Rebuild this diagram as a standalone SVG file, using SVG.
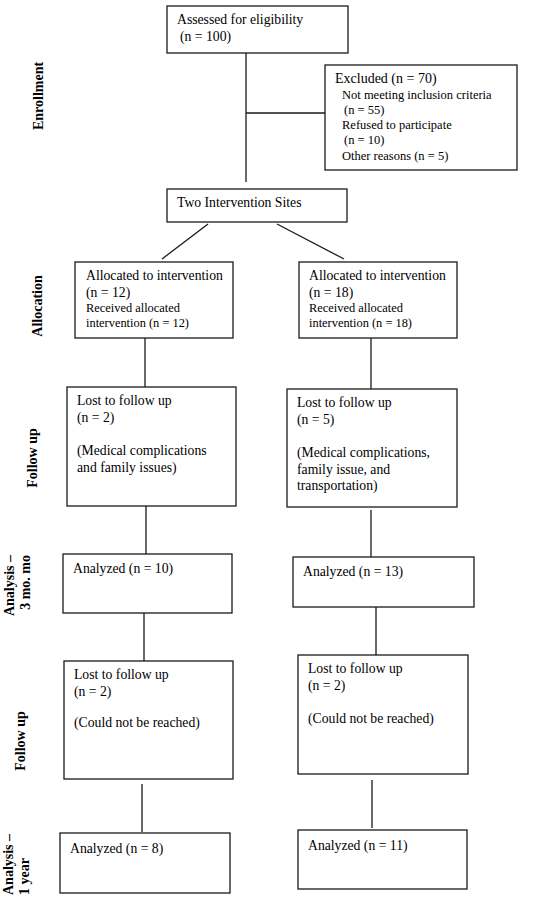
<svg xmlns="http://www.w3.org/2000/svg" width="550" height="899" viewBox="0 0 550 899">
<style>
.box{fill:#fff;stroke:#1a1a1a;stroke-width:1.3}
.ln{stroke:#1a1a1a;stroke-width:1.3;fill:none}
text{font-family:"Liberation Serif","Times New Roman",serif;fill:#000}
.t{font-size:13.7px}
.s{font-size:12.4px}
.e{font-size:12.5px}
.lab{font-size:14px;font-weight:bold}
</style>
<rect width="550" height="899" fill="#fff"/>
<g id="connectors">
<line class="ln" x1="246" y1="53" x2="246" y2="182"/>
<line class="ln" x1="246" y1="113" x2="325" y2="113"/>
<line class="ln" x1="208" y1="224" x2="162" y2="259"/>
<line class="ln" x1="277" y1="224" x2="344" y2="259"/>
<line class="ln" x1="145" y1="338" x2="145" y2="387"/>
<line class="ln" x1="371" y1="338" x2="371" y2="389"/>
<line class="ln" x1="146" y1="506" x2="146" y2="554"/>
<line class="ln" x1="371" y1="510" x2="371" y2="557"/>
<line class="ln" x1="144" y1="613" x2="144" y2="661"/>
<line class="ln" x1="376" y1="607" x2="376" y2="655"/>
<line class="ln" x1="142" y1="784" x2="142" y2="832"/>
<line class="ln" x1="372" y1="780" x2="372" y2="828"/>
</g>
<g id="labels">
<text class="lab" text-anchor="middle" transform="translate(43,96) rotate(-90)">Enrollment</text>
<text class="lab" text-anchor="middle" transform="translate(42,306) rotate(-90)">Allocation</text>
<text class="lab" text-anchor="middle" transform="translate(37,458) rotate(-90)">Follow up</text>
<text class="lab" text-anchor="end" transform="translate(14,555) rotate(-90)">Analysis –</text>
<text class="lab" text-anchor="end" transform="translate(30,555) rotate(-90)">3 mo. mo</text>
<text class="lab" text-anchor="middle" transform="translate(25,741) rotate(-90)">Follow up</text>
<text class="lab" text-anchor="start" transform="translate(13,895) rotate(-90)">Analysis –</text>
<text class="lab" text-anchor="start" transform="translate(29,895) rotate(-90)">1 year</text>
</g>
<g id="assessed">
<rect class="box" x="167" y="6" width="181" height="47"/>
<text class="t" x="177" y="24">Assessed for eligibility</text>
<text class="t" x="180" y="41">(n = 100)</text>
</g>
<g id="excluded">
<rect class="box" x="325" y="65" width="192" height="105"/>
<text class="t" x="335" y="83" style="font-size:14px">Excluded (n = 70)</text>
<text class="e" x="342" y="99">Not meeting inclusion criteria</text>
<text class="e" x="344" y="114">(n = 55)</text>
<text class="e" x="342" y="129">Refused to participate</text>
<text class="e" x="344" y="144">(n = 10)</text>
<text class="e" x="342" y="160">Other reasons (n = 5)</text>
</g>
<g id="sites">
<rect class="box" x="167" y="189" width="180" height="33"/>
<text class="t" x="177" y="207">Two Intervention Sites</text>
</g>
<g id="alloc-left">
<rect class="box" x="75" y="262" width="158" height="76"/>
<text class="t" x="86" y="280">Allocated to intervention</text>
<text class="t" x="86" y="297">(n = 12)</text>
<text class="s" x="86" y="312">Received allocated</text>
<text class="s" x="86" y="327">intervention (n = 12)</text>
</g>
<g id="alloc-right">
<rect class="box" x="299" y="262" width="158" height="76"/>
<text class="t" x="309" y="280">Allocated to intervention</text>
<text class="t" x="309" y="297">(n = 18)</text>
<text class="s" x="309" y="312">Received allocated</text>
<text class="s" x="309" y="327">intervention (n = 18)</text>
</g>
<g id="lost1-left">
<rect class="box" x="67" y="387" width="169" height="119"/>
<text class="t" x="77" y="405">Lost to follow up</text>
<text class="t" x="77" y="422">(n = 2)</text>
<text class="t" x="77" y="455">(Medical complications</text>
<text class="t" x="77" y="472">and family issues)</text>
</g>
<g id="lost1-right">
<rect class="box" x="287" y="389" width="170" height="118"/>
<text class="t" x="297" y="407">Lost to follow up</text>
<text class="t" x="297" y="424">(n = 5)</text>
<text class="t" x="297" y="457">(Medical complications,</text>
<text class="t" x="297" y="474">family issue, and</text>
<text class="t" x="297" y="490">transportation)</text>
</g>
<g id="an3-left">
<rect class="box" x="63" y="554" width="169" height="59"/>
<text class="t" x="73" y="573">Analyzed (n = 10)</text>
</g>
<g id="an3-right">
<rect class="box" x="293" y="557" width="181" height="50"/>
<text class="t" x="303" y="576">Analyzed (n = 13)</text>
</g>
<g id="lost2-left">
<rect class="box" x="64" y="661" width="169" height="118"/>
<text class="t" x="74" y="679">Lost to follow up</text>
<text class="t" x="74" y="696">(n = 2)</text>
<text class="t" x="74" y="727">(Could not be reached)</text>
</g>
<g id="lost2-right">
<rect class="box" x="298" y="655" width="170" height="119"/>
<text class="t" x="308" y="673">Lost to follow up</text>
<text class="t" x="308" y="690">(n = 2)</text>
<text class="t" x="308" y="723">(Could not be reached)</text>
</g>
<g id="an1y-left">
<rect class="box" x="60" y="833" width="170" height="60"/>
<text class="t" x="70" y="853">Analyzed (n = 8)</text>
</g>
<g id="an1y-right">
<rect class="box" x="298" y="830" width="169" height="59"/>
<text class="t" x="308" y="850">Analyzed (n = 11)</text>
</g>
</svg>
